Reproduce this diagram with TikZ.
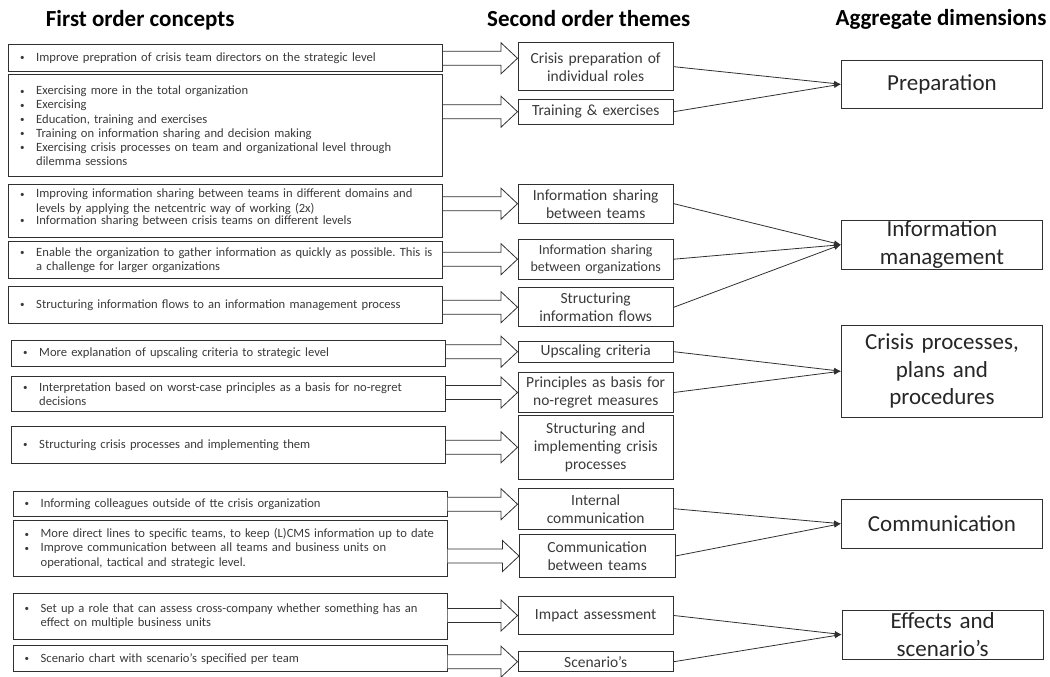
\documentclass[tikz,border=0pt]{standalone}
\usepackage{fontspec}
\setmainfont{Carlito}
\usetikzlibrary{arrows.meta,calc}
\frenchspacing

\definecolor{txt}{HTML}{3A3A3A}
\definecolor{edge}{HTML}{303030}

% one bullet line of a concept box
\newcommand{\bul}[1]{\hspace*{11.5pt}\makebox[16pt][l]{\raisebox{0.6pt}{\fontsize{9pt}{9pt}\selectfont\textbullet}}\parbox[t]{400pt}{#1}\par}
% block arrow from a concept box to a theme box, at the level of a third node
\newcommand{\flow}[3]{%
  \draw[blockarrow] let \p1=(#1.east), \p2=(#2.west), \p3=(#3.center) in
    (\x1,\y3+7pt) -- (\x2-16.5pt,\y3+7pt) -- (\x2-16.5pt,\y3+15.5pt) -- (\x2,\y3)
    -- (\x2-16.5pt,\y3-15.5pt) -- (\x2-16.5pt,\y3-7pt) -- (\x1,\y3-7pt);}

\tikzset{
  heading/.style={anchor=base, font=\fontsize{23pt}{27pt}\selectfont\bfseries},
  concept/.style={draw=edge, line width=0.9pt, anchor=west, text width=434pt, inner xsep=0pt,
    inner ysep=0pt, align=left, text=txt, font=\fontsize{12.6pt}{14.2pt}\selectfont},
  theme/.style={draw=edge, line width=0.9pt, anchor=west, minimum width=155.5pt, text width=152pt,
    inner xsep=1pt, inner ysep=0pt, align=center, text=txt, font=\fontsize{15.5pt}{18pt}\selectfont},
  dimension/.style={draw=edge, line width=0.9pt, anchor=west, minimum width=201pt, text width=198pt,
    inner xsep=1pt, inner ysep=0pt, align=center, text=black!85, font=\fontsize{23pt}{27.5pt}\selectfont},
  blockarrow/.style={draw=edge, line width=0.8pt, fill=white},
  link/.style={draw=edge, line width=0.8pt, -{Latex[length=7pt,width=5.5pt]}}
}

\begin{document}
\begin{tikzpicture}[x=1pt,y=-1pt]
  \useasboundingbox (0,0) rectangle (1050,677);

  \node[heading] (h1) at (140.2,27) {First order concepts};
  \node[heading] (h2) at (588.7,26.7) {Second order themes};
  \node[heading] (h3) at (941,25.5) {Aggregate dimensions};

  % first order concepts
  \node[concept, minimum height=26.7pt] (c1) at (8.3,58.3)
    {\bul{Improve prepration of crisis team directors on the strategic level}};
  \node[concept, minimum height=101.7pt] (c2) at (8.3,125.8)
    {\bul{Exercising more in the total organization}
     \bul{Exercising}
     \bul{Education, training and exercises}
     \bul{Training on information sharing and decision making}
     \bul{Exercising crisis processes on team and organizational level through\\dilemma sessions}};
  \node[concept, minimum height=53.3pt] (c3) at (8.3,210.7)
    {\bul{Improving information sharing between teams in different domains and\\levels by applying the netcentric way of working (2x)}
     \bul{Information sharing between crisis teams on different levels}\vspace{6pt}};
  \node[concept, minimum height=36.6pt] (c4) at (8.3,260)
    {\bul{Enable the organization to gather information as quickly as possible. This is\\a challenge for larger organizations}};
  \node[concept, minimum height=36.6pt] (c5) at (8.3,305)
    {\bul{Structuring information flows to an information management process}};
  \node[concept, minimum height=26pt] (c6) at (11.3,353)
    {\bul{More explanation of upscaling criteria to strategic level}};
  \node[concept, minimum height=35pt] (c7) at (11.3,394.2)
    {\bul{Interpretation based on worst-case principles as a basis for no-regret\\decisions}};
  \node[concept, minimum height=36.6pt] (c8) at (11.3,445)
    {\bul{Structuring crisis processes and implementing them}};
  \node[concept, minimum height=25pt] (c9) at (12.7,504.2)
    {\bul{Informing colleagues outside of tte crisis organization}};
  \node[concept, minimum height=55.3pt] (c10) at (12.7,548.3)
    {\bul{More direct lines to specific teams, to keep (L)CMS information up to date}
     \bul{Improve communication between all teams and business units on\\operational, tactical and strategic level.}};
  \node[concept, minimum height=46pt] (c11) at (12.7,616.3)
    {\bul{Set up a role that can assess cross-company whether something has an\\effect on multiple business units}};
  \node[concept, minimum height=26pt] (c12) at (12.7,658.7)
    {\bul{Scenario chart with scenario’s specified per team}};

  % second order themes
  \node[theme, minimum height=48pt] (t1) at (517.5,66.7) {Crisis preparation of\\individual roles};
  \node[theme, minimum height=25.3pt] (t2) at (517.5,111.7) {Training \& exercises};
  \node[theme, minimum height=39.3pt] (t3) at (517.5,203.7) {Information sharing\\between teams};
  \node[theme, minimum height=39.7pt, font=\fontsize{14pt}{17.5pt}\selectfont] (t4) at (517.5,259.2)
    {Information sharing\\between organizations};
  \node[theme, minimum height=39pt] (t5) at (517.5,307.2) {Structuring\\information flows};
  \node[theme, minimum height=21.3pt] (t6) at (517.5,351.7) {Upscaling criteria};
  \node[theme, minimum height=39.6pt] (t7) at (517.5,392.5) {Principles as basis for\\no-regret measures};
  \node[theme, minimum height=63.3pt] (t8) at (517.5,447.3) {Structuring and\\implementing crisis\\processes};
  \node[theme, minimum height=40.7pt] (t9) at (517.5,508.7) {Internal\\communication};
  \node[theme, minimum height=42.6pt] (t10) at (519,556) {Communication\\between teams};
  \node[theme, minimum height=37.6pt] (t11) at (517.5,615.5) {Impact assessment};
  \node[theme, minimum height=20pt] (t12) at (517.5,661.7) {Scenario’s};

  % aggregate dimensions
  \node[dimension, minimum height=48.3pt] (d1) at (841,84.2) {Preparation};
  \node[dimension, minimum height=49.3pt] (d2) at (841,244.7) {Information\\management};
  \node[dimension, minimum height=92.3pt] (d3) at (841,371.2) {Crisis processes,\\plans and\\procedures};
  \node[dimension, minimum height=49.3pt] (d4) at (841,523.7) {Communication};
  \node[dimension, minimum height=49pt] (d5) at (841.7,634.5) {Effects and\\scenario’s};

  % block arrows
  \flow{c1}{t1}{c1}
  \flow{c2}{t2}{t2}
  \flow{c3}{t3}{t3}
  \flow{c4}{t4}{t4}
  \flow{c5}{t5}{t5}
  \flow{c6}{t6}{t6}
  \flow{c7}{t7}{t7}
  \flow{c8}{t8}{t8}
  \flow{c9}{t9}{c9}
  \flow{c10}{t10}{t10}
  \flow{c11}{t11}{t11}
  \flow{c12}{t12}{t12}

  % links to the dimensions
  \draw[link] (t1.east) -- (d1.west);
  \draw[link] (t2.east) -- (d1.west);
  \draw[link] (t3.east) -- (d2.west);
  \draw[link] (t4.east) -- (d2.west);
  \draw[link] (t5.east) -- (d2.west);
  \draw[link] (t6.east) -- (d3.west);
  \draw[link] (t7.east) -- (d3.west);
  \draw[link] (t9.east) -- (d4.west);
  \draw[link] (t10.east) -- (d4.west);
  \draw[link] (t11.east) -- (d5.west);
  \draw[link] (t12.east) -- (d5.west);
\end{tikzpicture}
\end{document}
